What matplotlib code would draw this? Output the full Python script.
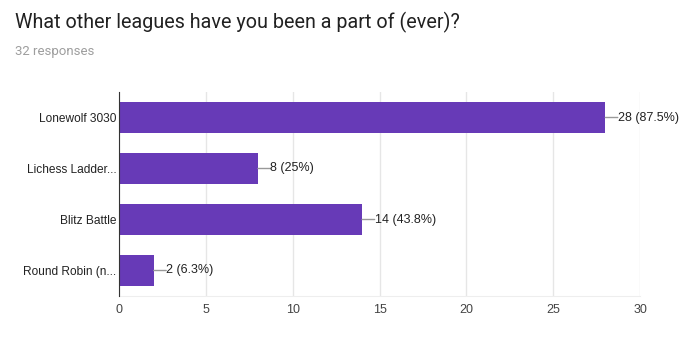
import matplotlib
matplotlib.use("Agg")
import matplotlib.pyplot as plt

categories = ["Lonewolf 3030", "Lichess Ladder...", "Blitz Battle", "Round Robin (n..."]
counts = [28, 8, 14, 2]
pct_labels = ["28 (87.5%)", "8 (25%)", "14 (43.8%)", "2 (6.3%)"]
xticks = [0, 5, 10, 15, 20, 25, 30]

fig = plt.figure(figsize=(6.97, 3.56), dpi=100)
ax = fig.add_axes([119/697, 1-296/356, (640-119)/697, (296-92)/356])

y = list(range(len(categories)))
ax.barh(y, counts, height=0.62, color="#673ab7", zorder=3)
ax.set_ylim(len(categories)-0.5, -0.5)
ax.set_xlim(0, 30)
ax.set_xticks(xticks)
ax.set_yticks(y)
ax.set_yticklabels(categories, fontsize=8.6, color="#222222", family="Liberation Sans")
ax.set_xticklabels([str(t) for t in xticks], fontsize=9, color="#444444", family="Liberation Sans")
ax.tick_params(axis="y", length=0, pad=2)
ax.tick_params(axis="x", length=0, pad=6)
ax.grid(axis="x", color="#e6e6e6", linewidth=1, zorder=0)
for s in ["top", "right"]:
    ax.spines[s].set_visible(False)
ax.spines["bottom"].set_color("#eeeeee")
ax.spines["left"].set_color("#333333")
ax.spines["left"].set_zorder(4)

for yi, c, lab in zip(y, counts, pct_labels):
    ax.annotate("", xy=(c, yi), xytext=(9, 0), textcoords="offset points",
                arrowprops=dict(arrowstyle="-", color="#999999", lw=1, shrinkA=0, shrinkB=0))
    ax.annotate(lab, xy=(c, yi), xytext=(9, 0), textcoords="offset points",
                va="center", ha="left", fontsize=9, color="#222222", family="Liberation Sans")

fig.text(15/697, 1-22/356, "What other leagues have you been a part of (ever)?",
         fontsize=14.2, color="#212121", family="Roboto", va="center", ha="left")
fig.text(15/697, 1-52/356, "32 responses", fontsize=9.5, color="#9e9e9e",
         family="Roboto", va="center", ha="left")

fig.savefig("out.png", dpi=100)
